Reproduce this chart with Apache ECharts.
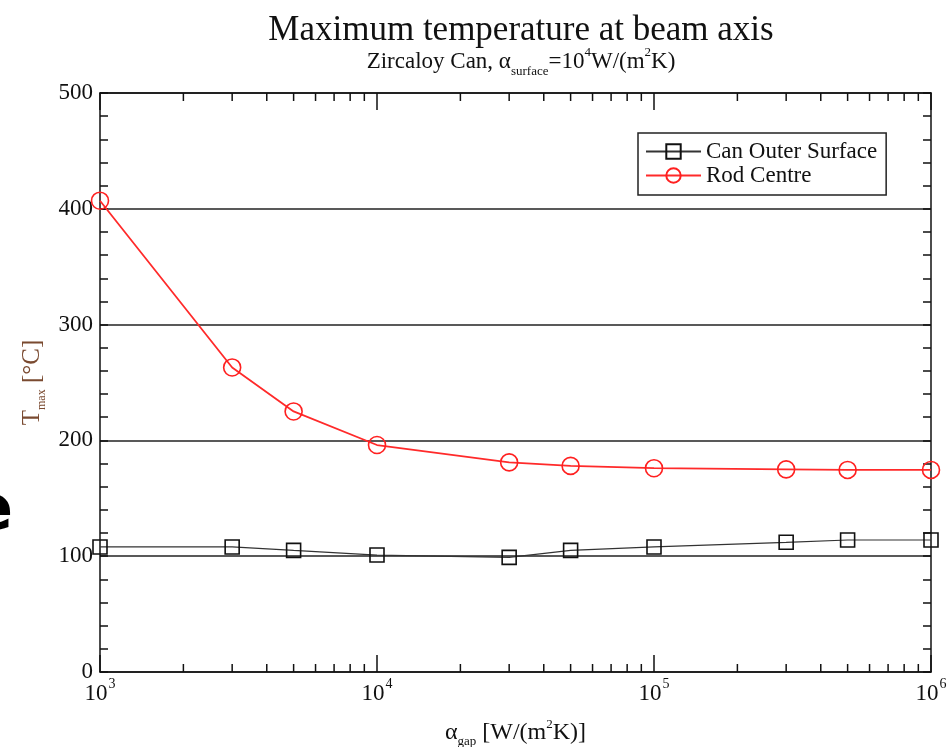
<!DOCTYPE html>
<html>
<head>
<meta charset="utf-8">
<script src="https://cdn.jsdelivr.net/npm/echarts@6/dist/echarts.min.js"></script>
<style>
  html, body { margin: 0; padding: 0; background: #fff; }
  #chart { width: 949px; height: 747px; }
</style>
</head>
<body>
<div id="chart"></div>
<script>
// gap heat transfer coefficient (x, log scale)
var gapValues = [1000, 3000, 5000, 10000, 30000, 50000, 100000, 300000, 500000, 1000000]
// max temperature [°C]
var canOuterSurface = [108, 108, 105, 101, 99, 105, 108, 112, 114, 114]
var rodCentre = [407, 263, 225, 196, 181, 178, 176, 175, 174.5, 174.5]
// log minor tick positions on the x axis
var xMinorTicks = [2000, 3000, 4000, 5000, 6000, 7000, 8000, 9000,
  20000, 30000, 40000, 50000, 60000, 70000, 80000, 90000,
  200000, 300000, 400000, 500000, 600000, 700000, 800000, 900000]
var yTicks = [0, 100, 200, 300, 400, 500]

var serif = 'Liberation Serif'

function pairs (xs, ys) {
  return xs.map(function (x, i) { return [x, ys[i]] })
}

var chart = echarts.init(document.getElementById('chart'))

var xLabelRich = {
  b: { fontFamily: serif, fontSize: 23, color: '#111', lineHeight: 28, verticalAlign: 'bottom' },
  sup: { fontFamily: serif, fontSize: 14, color: '#111', lineHeight: 28, verticalAlign: 'top', padding: [0, 0, 0, 1] }
}

chart.setOption({
  animation: false,
  title: [
    {
      text: 'Maximum temperature at beam axis',
      left: 516,
      top: 8,
      textAlign: 'center',
      textStyle: { fontFamily: serif, fontSize: 35, fontWeight: 'normal', color: '#111' }
    },
    {
      text: '{b|Zircaloy Can, α}{sub|surface}{b|=10}{sup|4}{b|W/(m}{sup|2}{b|K)}',
      left: 516,
      top: 41,
      textAlign: 'center',
      textStyle: {
        fontWeight: 'normal',
        rich: {
          b: { fontFamily: serif, fontSize: 23, fontWeight: 'normal', color: '#111', lineHeight: 32, verticalAlign: 'middle' },
          sub: { fontFamily: serif, fontSize: 13, fontWeight: 'normal', color: '#111', lineHeight: 32, verticalAlign: 'bottom' },
          sup: { fontFamily: serif, fontSize: 13, fontWeight: 'normal', color: '#111', lineHeight: 32, verticalAlign: 'top' }
        }
      }
    }
  ],
  graphic: [
    {
      type: 'text',
      left: -29,
      top: 482,
      style: { text: 'e', font: 'bold 62px "DejaVu Sans"', fill: '#000' }
    }
  ],
  legend: {
    orient: 'vertical',
    left: 638,
    top: 133,
    padding: [7, 9, 8, 7],
    itemGap: 1,
    itemWidth: 55,
    itemHeight: 18,
    borderColor: '#222',
    borderWidth: 1.5,
    backgroundColor: '#fff',
    data: ['Can Outer Surface', 'Rod Centre'],
    textStyle: { fontFamily: serif, fontSize: 23, color: '#111', lineHeight: 23 }
  },
  grid: {
    left: 100,
    right: 18,
    top: 93,
    bottom: 75,
    outerBoundsMode: 'none'
  },
  xAxis: [
    {
      type: 'log',
      logBase: 10,
      min: 1000,
      max: 1000000,
      name: '{a|α}{sub|gap}{b| [W/(m}{sup|2}{b|K)]}',
      nameLocation: 'middle',
      nameGap: 46,
      nameTextStyle: {
        rich: {
          a: { fontFamily: serif, fontSize: 24, color: '#111', lineHeight: 30, verticalAlign: 'middle' },
          b: { fontFamily: serif, fontSize: 24, color: '#111', lineHeight: 30, verticalAlign: 'middle' },
          sub: { fontFamily: serif, fontSize: 13, color: '#111', lineHeight: 30, verticalAlign: 'bottom' },
          sup: { fontFamily: serif, fontSize: 13, color: '#111', lineHeight: 30, verticalAlign: 'top' }
        }
      },
      axisLine: { show: true, onZero: false, lineStyle: { color: '#111', width: 1.5 } },
      axisTick: { show: true, inside: true, length: 17, lineStyle: { color: '#111', width: 1.5 } },
      splitLine: { show: false },
      axisLabel: {
        margin: 5,
        formatter: function (v) {
          return '{b|10}{sup|' + Math.round(Math.log10(v)) + '}'
        },
        rich: xLabelRich
      }
    },
    {
      type: 'log',
      logBase: 10,
      min: 1000,
      max: 1000000,
      position: 'top',
      axisLine: { show: true, onZero: false, lineStyle: { color: '#111', width: 1.5 } },
      axisTick: { show: true, inside: true, length: 17, lineStyle: { color: '#111', width: 1.5 } },
      axisLabel: { show: false },
      splitLine: { show: false }
    }
  ],
  yAxis: [
    {
      type: 'value',
      min: yTicks[0],
      max: yTicks[yTicks.length - 1],
      interval: 100,
      name: '{b|T}{sub|max}{b| [°C]}',
      nameLocation: 'middle',
      nameGap: 51,
      nameRotate: 90,
      nameTextStyle: {
        rich: {
          b: { fontFamily: serif, fontSize: 25, color: '#7a4a30', lineHeight: 30, verticalAlign: 'middle' },
          sub: { fontFamily: serif, fontSize: 12, color: '#7a4a30', lineHeight: 30, verticalAlign: 'bottom' }
        }
      },
      axisLine: { show: true, lineStyle: { color: '#111', width: 1.5 } },
      axisTick: { show: true, inside: true, length: 8, lineStyle: { color: '#111', width: 1.5 } },
      minorTick: { show: true, splitNumber: 5, length: 8, lineStyle: { color: '#111', width: 1.5 } },
      splitLine: { show: true, lineStyle: { color: '#222', width: 1.5 } },
      axisLabel: { fontFamily: serif, fontSize: 23, color: '#111', margin: 7 }
    },
    {
      type: 'value',
      min: yTicks[0],
      max: yTicks[yTicks.length - 1],
      interval: 100,
      position: 'right',
      axisLine: { show: true, lineStyle: { color: '#111', width: 1.5 } },
      axisTick: { show: true, inside: true, length: 8, lineStyle: { color: '#111', width: 1.5 } },
      minorTick: { show: true, splitNumber: 5, length: 8, lineStyle: { color: '#111', width: 1.5 } },
      splitLine: { show: false },
      axisLabel: { show: false }
    }
  ],
  series: [
    {
      // x axis minor ticks (log spacing), on bottom and top edges
      type: 'custom',
      silent: true,
      xAxisIndex: 0,
      yAxisIndex: 0,
      data: xMinorTicks.map(function (v) { return [v] }),
      encode: { x: 0 },
      renderItem: function (params, api) {
        var bottom = api.coord([api.value(0), yTicks[0]])
        var top = api.coord([api.value(0), yTicks[yTicks.length - 1]])
        var style = { stroke: '#111', lineWidth: 1.5 }
        return {
          type: 'group',
          children: [
            { type: 'line', shape: { x1: bottom[0], y1: bottom[1], x2: bottom[0], y2: bottom[1] - 8 }, style: style },
            { type: 'line', shape: { x1: top[0], y1: top[1], x2: top[0], y2: top[1] + 8 }, style: style }
          ]
        }
      },
      z: 1
    },
    {
      name: 'Can Outer Surface',
      type: 'line',
      data: pairs(gapValues, canOuterSurface),
      symbol: 'rect',
      symbolSize: 14,
      color: '#111',
      lineStyle: { color: '#333', width: 1.2 },
      itemStyle: { color: 'rgba(0,0,0,0)', borderColor: '#111', borderWidth: 1.6 },
      clip: false,
      z: 3
    },
    {
      name: 'Rod Centre',
      type: 'line',
      data: pairs(gapValues, rodCentre),
      symbol: 'circle',
      symbolSize: 17,
      color: '#ff2020',
      lineStyle: { color: '#ff2a2a', width: 1.8 },
      itemStyle: { color: 'rgba(0,0,0,0)', borderColor: '#ff2020', borderWidth: 1.6 },
      clip: false,
      z: 3
    }
  ]
})
</script>
</body>
</html>
